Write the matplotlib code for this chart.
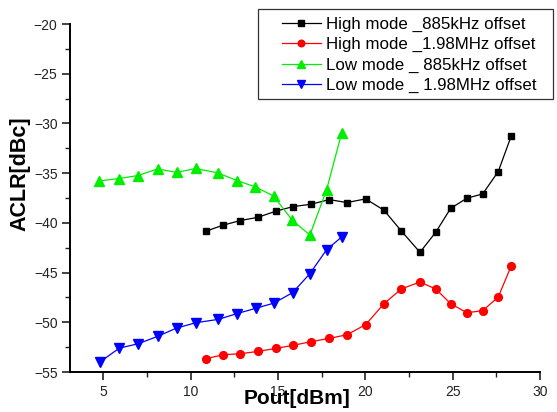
import matplotlib
matplotlib.use("Agg")
import matplotlib.pyplot as plt
from matplotlib.ticker import MultipleLocator
from matplotlib.patches import Rectangle

plt.rcParams['font.family'] = ['Liberation Sans', 'DejaVu Sans']

hm885_x = [10.86, 11.85, 12.84, 13.86, 14.87, 15.88, 16.89, 17.94, 18.95, 20.02, 21.07, 22.06, 23.13, 24.03, 24.89, 25.82, 26.72, 27.61, 28.35]
hm885_y = [-40.85, -40.24, -39.77, -39.44, -38.83, -38.36, -38.13, -37.66, -37.96, -37.59, -38.73, -40.81, -42.96, -40.95, -38.53, -37.52, -37.09, -34.84, -31.28]

hm198_x = [10.86, 11.85, 12.84, 13.86, 14.87, 15.84, 16.89, 17.94, 18.95, 20.02, 21.07, 22.06, 23.13, 24.03, 24.89, 25.82, 26.72, 27.61, 28.35]
hm198_y = [-53.67, -53.27, -53.16, -52.93, -52.63, -52.33, -51.95, -51.62, -51.25, -50.24, -48.13, -46.65, -45.95, -46.65, -48.13, -49.04, -48.83, -47.46, -44.34]

lm885_x = [4.77, 5.92, 6.99, 8.11, 9.20, 10.29, 11.55, 12.65, 13.70, 14.75, 15.82, 16.83, 17.79, 18.65]
lm885_y = [-35.78, -35.54, -35.24, -34.57, -34.93, -34.53, -34.97, -35.74, -36.38, -37.29, -39.74, -41.22, -36.65, -30.95]

lm198_x = [4.81, 5.92, 7.00, 8.11, 9.20, 10.31, 11.58, 12.65, 13.72, 14.77, 15.84, 16.83, 17.79, 18.65]
lm198_y = [-54.0, -52.60, -52.16, -51.42, -50.58, -50.04, -49.71, -49.13, -48.60, -48.07, -47.02, -45.11, -42.69, -41.42]

labels = ["High mode _885kHz offset", "High mode _1.98MHz offset",
          "Low mode _ 885kHz offset", "Low mode _ 1.98MHz offset"]

W, H = 557, 412
fig = plt.figure(figsize=(W/100, H/100), dpi=100)
ax = fig.add_axes([70/W, 40/H, 470/W, 348/H])

ax.plot(hm885_x, hm885_y, color='black', lw=0.9, marker='s', ms=5, mfc='black', mec='black', label=labels[0])
ax.plot(hm198_x, hm198_y, color='red', lw=0.9, marker='o', ms=5.6, mfc='red', mec='red', label=labels[1])
ax.plot(lm885_x, lm885_y, color='#00ee00', lw=0.9, marker='^', ms=6.5, mfc='#00ee00', mec='#00ee00', label=labels[2])
ax.plot(lm198_x, lm198_y, color='blue', lw=0.9, marker='v', ms=6.5, mfc='blue', mec='blue', label=labels[3])

ax.set_xlim(3.1, 30)
ax.set_ylim(-55, -20)
ax.xaxis.set_major_locator(MultipleLocator(5))
ax.xaxis.set_minor_locator(MultipleLocator(2.5))
ax.yaxis.set_major_locator(MultipleLocator(5))
ax.yaxis.set_minor_locator(MultipleLocator(2.5))
ax.spines['top'].set_visible(False)
ax.spines['right'].set_visible(False)
for s in ('left', 'bottom'):
    ax.spines[s].set_linewidth(1.4)
ax.tick_params(which='major', direction='out', length=6, width=1.2, labelsize=10, pad=3, colors='#222222')
ax.tick_params(which='minor', direction='out', length=3.5, width=1.0, colors='#222222')

ax.set_xlabel('Pout[dBm]', fontsize=15, fontweight='bold', va='center')
ax.xaxis.set_label_coords((297 - 70) / 470, -(399 - 372) / 348)
ax.set_ylabel('ACLR[dBc]', fontsize=15.5, fontweight='bold', va='center')
ax.yaxis.set_label_coords((20 - 70) / 470, (372 - 174) / 348)

leg = fig.legend(loc='upper left', bbox_to_anchor=(282/W, 1 - 17/H),
                 bbox_transform=fig.transFigure, fontsize=12.2, frameon=False,
                 handlelength=2.3, borderpad=0, labelspacing=0.3,
                 handletextpad=0.3, borderaxespad=0, markerscale=0.85)
fig.add_artist(Rectangle((258/W, 1 - 99/H), (553 - 258)/W, (99 - 9)/H,
                         transform=fig.transFigure, fill=False,
                         edgecolor='#333333', linewidth=0.9))

fig.savefig('out.png', dpi=100)
